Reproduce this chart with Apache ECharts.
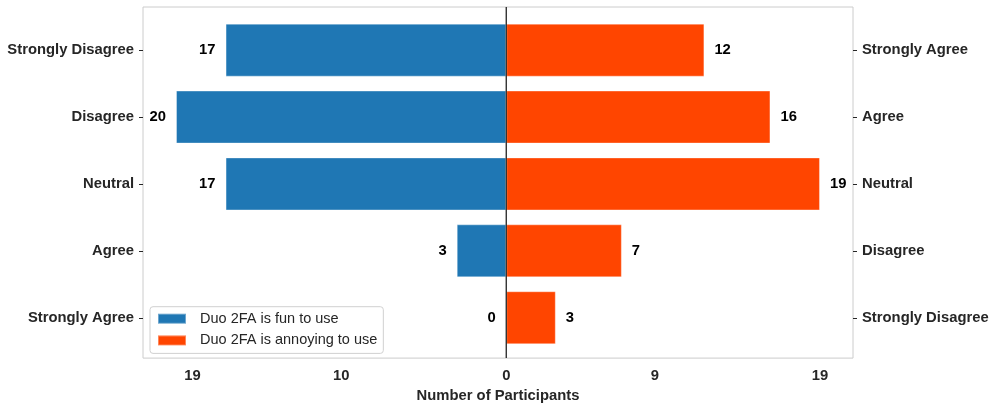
<!DOCTYPE html>
<html>
<head>
<meta charset="utf-8">
<script src="https://cdn.jsdelivr.net/npm/echarts@6/dist/echarts.min.js"></script>
<style>html,body{margin:0;padding:0;background:#fff}#c{width:996px;height:408px}</style>
</head>
<body>
<div id="c"></div>
<script>
const leftCategories = ['Strongly Disagree', 'Disagree', 'Neutral', 'Agree', 'Strongly Agree'];
const rightCategories = ['Strongly Agree', 'Agree', 'Neutral', 'Disagree', 'Strongly Disagree'];
const funValues = [17, 20, 17, 3, 0];
const annoyingValues = [12, 16, 19, 7, 3];
const xTickValues = [-19, -10, 0, 9, 19];
const seriesNames = ['Duo 2FA is fun to use', 'Duo 2FA is annoying to use'];

const FONT = '"Liberation Sans", Arial, sans-serif';
const TXT = '#262626';
const FS = 14.8;
const X_MIN = -22, X_MAX = 21;

const chart = echarts.init(document.getElementById('c'));
function labelStyle(pos) {
  return {
    show: true, position: pos, distance: 10,
    fontFamily: FONT, fontWeight: 'bold', fontSize: FS, color: '#000',
    formatter: p => String(Math.abs(p.value))
  };
}
function catAxis(data, pos) {
  return {
    gridIndex: 1, type: 'category', data: data, inverse: true, position: pos,
    axisLine: { show: false, onZero: false },
    axisTick: { show: true, alignWithLabel: true, length: 4, lineStyle: { color: TXT, width: 1 } },
    axisLabel: { margin: 9, fontFamily: FONT, fontWeight: 'bold', fontSize: FS, color: TXT, padding: [2, 0, 0, 0] },
    splitLine: { show: false }
  };
}
chart.setOption({
  animation: false,
  grid: [
    { left: 143, right: 143, top: 7, bottom: 47, show: true, borderColor: '#cccccc', borderWidth: 1, backgroundColor: 'transparent' },
    { left: 143, right: 143, top: 16.7, bottom: 56.8 }
  ],
  xAxis: [
    {
      gridIndex: 0, type: 'value', min: X_MIN, max: X_MAX,
      splitLine: { show: false }, axisLine: { show: false, onZero: false }, axisTick: { show: false },
      axisLabel: {
        customValues: xTickValues, margin: 10,
        fontFamily: FONT, fontWeight: 'bold', fontSize: FS, color: TXT,
        formatter: v => String(Math.abs(v))
      },
      name: 'Number of Participants', nameLocation: 'middle', nameGap: 28,
      nameTextStyle: { fontFamily: FONT, fontWeight: 'bold', fontSize: FS, color: TXT }
    },
    { gridIndex: 1, type: 'value', min: X_MIN, max: X_MAX, show: false }
  ],
  yAxis: [
    { gridIndex: 0, type: 'value', min: 0, max: 1, show: false },
    catAxis(leftCategories, 'left'),
    catAxis(rightCategories, 'right')
  ],
  legend: {
    data: seriesNames, orient: 'vertical', left: 150, top: 306.7,
    itemWidth: 28, itemHeight: 10, itemGap: 5.7,
    padding: [4, 6, 5, 7],
    backgroundColor: '#fff', borderColor: '#d0d0d0', borderWidth: 1, borderRadius: 3,
    icon: 'rect',
    textStyle: { fontFamily: FONT, fontSize: 14.5, color: TXT, lineHeight: 16, padding: [0, 0, 0, 9] }
  },
  series: [
    {
      name: seriesNames[0], type: 'bar', xAxisIndex: 1, yAxisIndex: 1,
      data: funValues.map(v => -v), barWidth: 53, barGap: '-100%',
      itemStyle: { color: '#1f77b4', borderColor: 'rgba(255,255,255,0.35)', borderWidth: 1 },
      label: labelStyle('left'), z: 3
    },
    {
      name: seriesNames[1], type: 'bar', xAxisIndex: 1, yAxisIndex: 1,
      data: annoyingValues, barWidth: 53, barGap: '-100%',
      itemStyle: { color: '#ff4500', borderColor: 'rgba(255,255,255,0.35)', borderWidth: 1 },
      label: labelStyle('right'), z: 3
    },
    {
      name: 'zero', type: 'line', xAxisIndex: 0, yAxisIndex: 0,
      data: [[0, 0], [0, 1]], symbol: 'none', silent: true,
      lineStyle: { color: '#222', width: 1.3 }, z: 5
    }
  ]
});
</script>
</body>
</html>
